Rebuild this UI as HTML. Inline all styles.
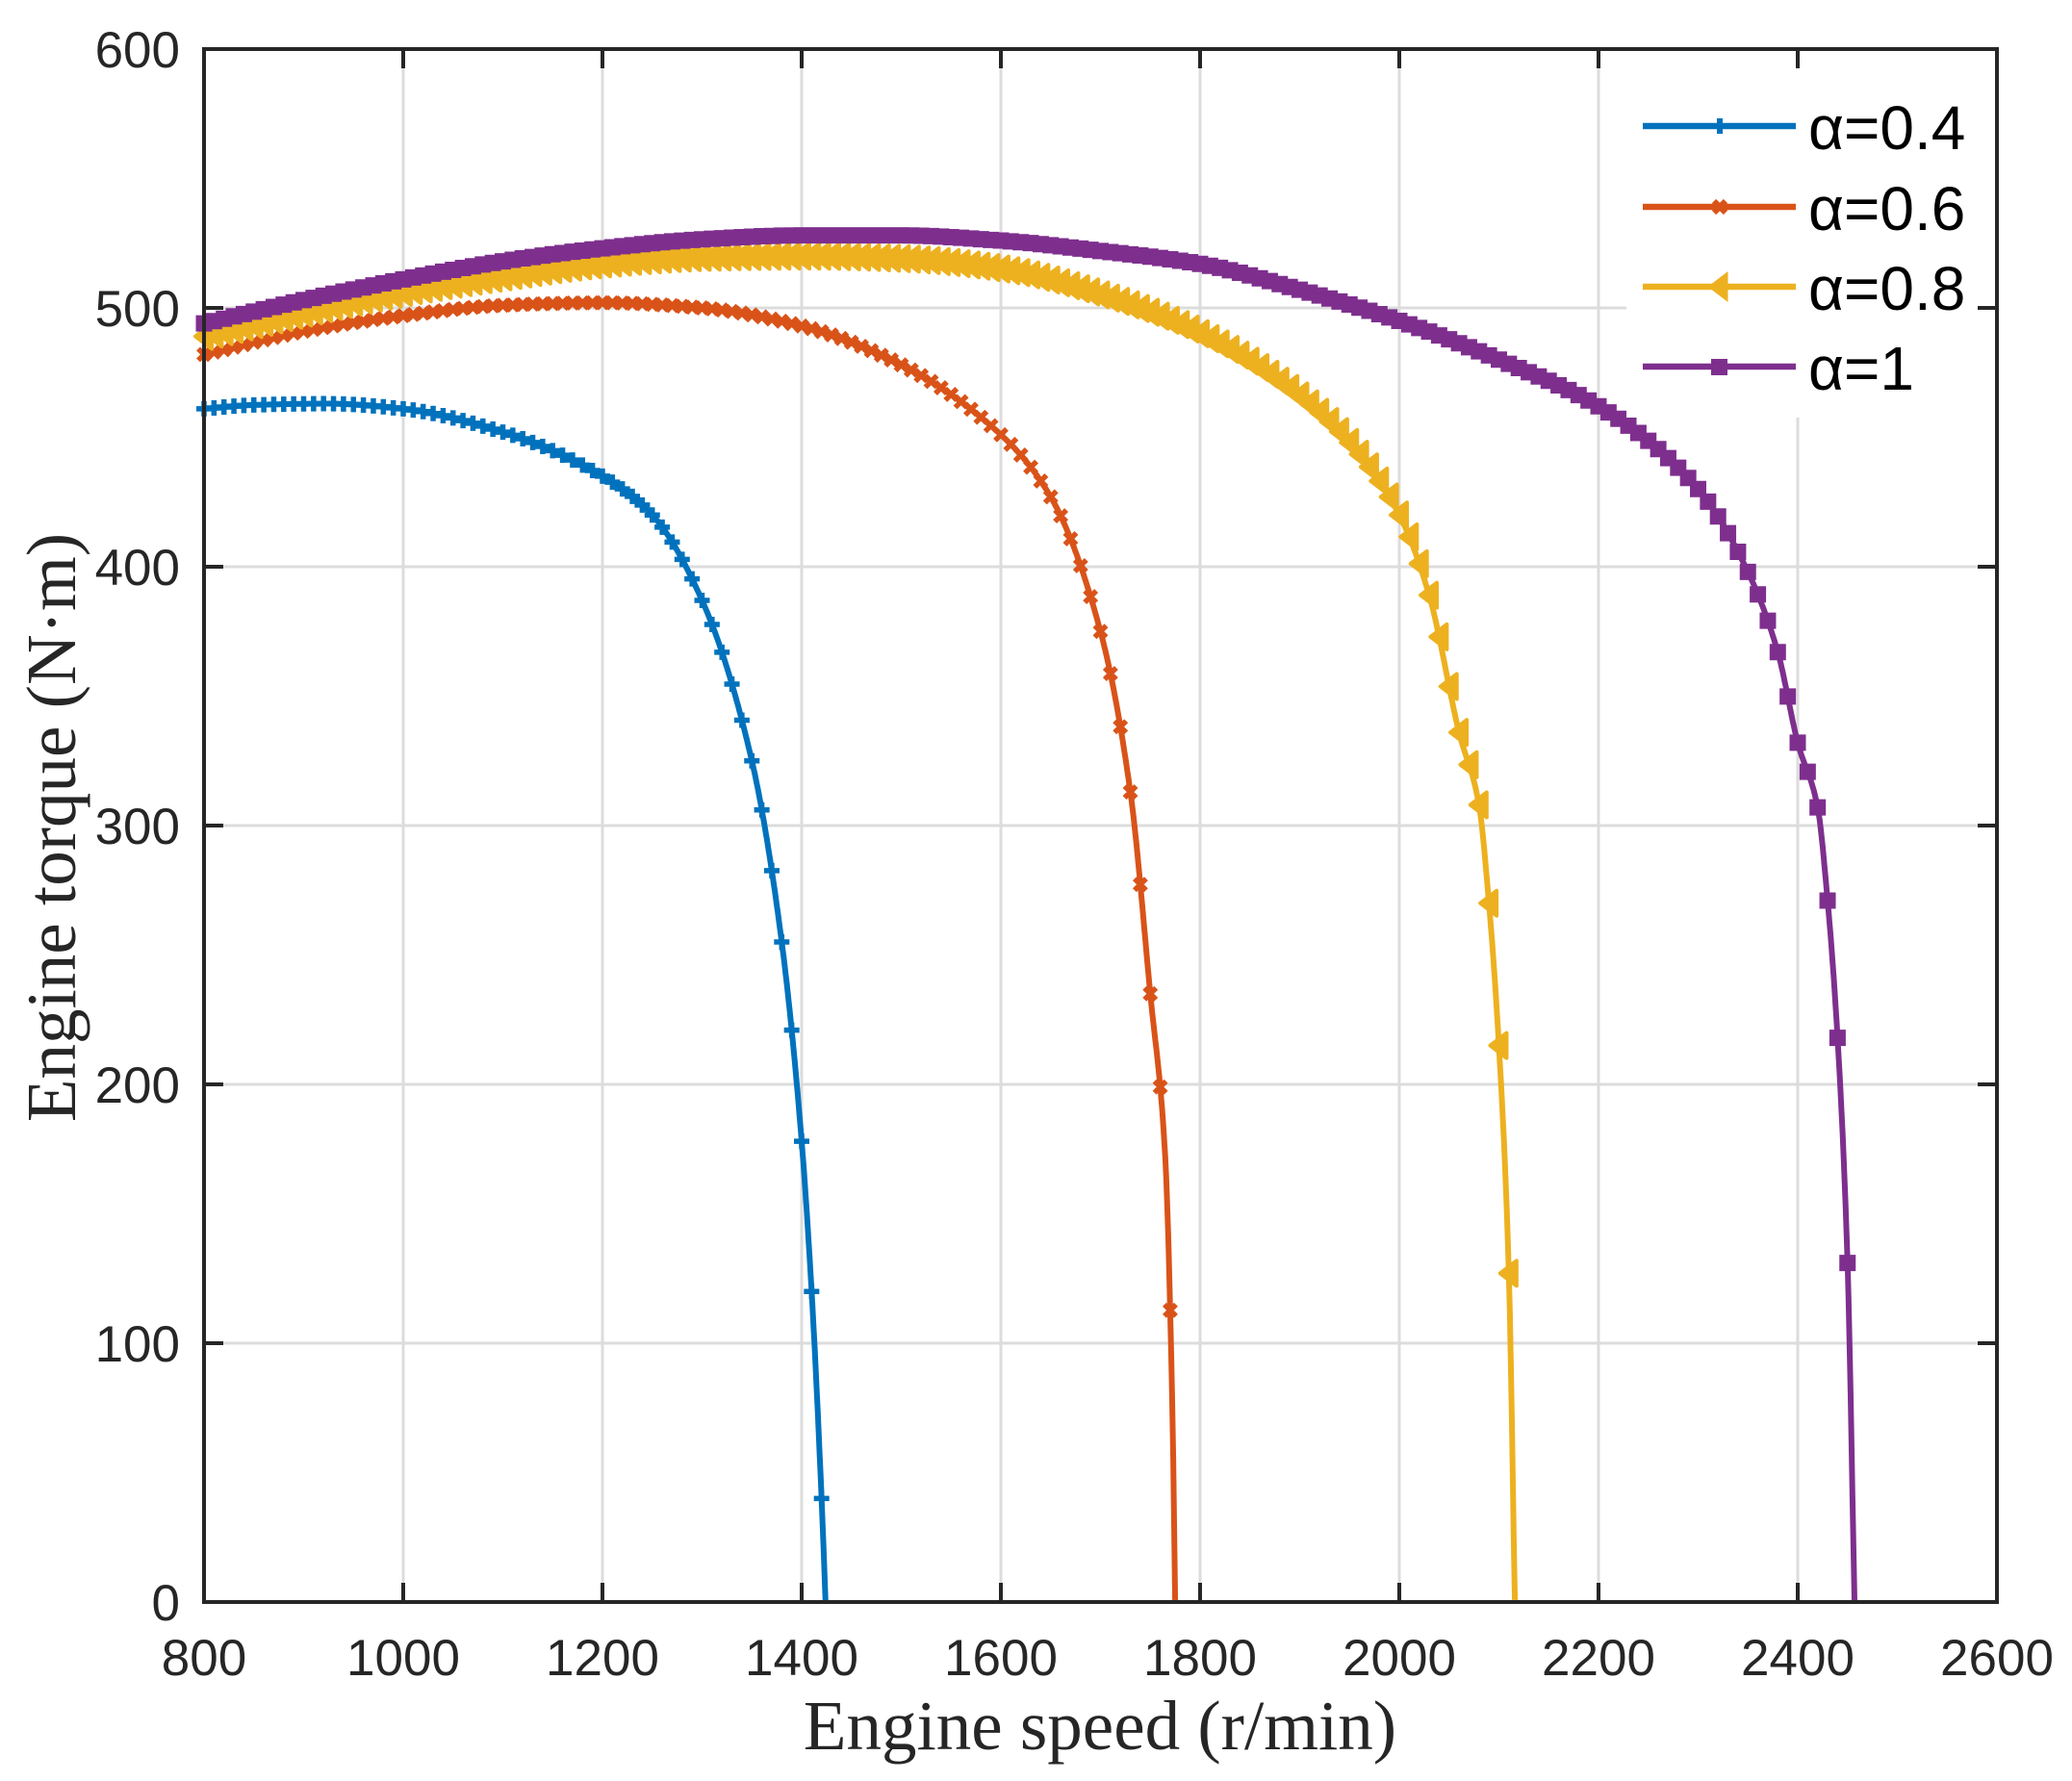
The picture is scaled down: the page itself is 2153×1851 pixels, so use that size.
<!DOCTYPE html>
<html><head><meta charset="utf-8">
<style>
html,body{margin:0;padding:0;background:#fff;}
svg{display:block;}
</style></head>
<body>
<svg id="s" width="2153" height="1851" xmlns="http://www.w3.org/2000/svg">
<rect width="2153" height="1851" fill="#fff"/>
<g id="grid"></g>
<g id="curves"></g>
<rect x="1690" y="62" width="368" height="372" fill="#fff"/>
<g id="axes"></g>
<g id="legend" font-family="Liberation Sans, sans-serif" font-size="64" fill="#000">
  <line x1="1707" y1="131" x2="1866" y2="131" stroke="#0072BD" stroke-width="6.5"/>
  <path d="M1779,131h16M1787,123v16" stroke="#0072BD" stroke-width="6"/>
  <text x="1879" y="155">α=0.4</text>
  <line x1="1707" y1="215" x2="1866" y2="215" stroke="#D95319" stroke-width="6.5"/>
  <path d="M1781,209l12,12M1793,209l-12,12" stroke="#D95319" stroke-width="6"/>
  <text x="1879" y="239">α=0.6</text>
  <line x1="1707" y1="298" x2="1866" y2="298" stroke="#EDB120" stroke-width="6.5"/>
  <path d="M1777,298L1794,285L1794,311Z" fill="#EDB120" stroke="#EDB120" stroke-width="3"/>
  <text x="1879" y="322">α=0.8</text>
  <line x1="1707" y1="381" x2="1866" y2="381" stroke="#7E2F8E" stroke-width="6.5"/>
  <rect x="1778" y="373" width="17" height="17" fill="#7E2F8E"/>
  <text x="1879" y="405">α=1</text>
</g>
<text x="1143" y="1818" text-anchor="middle" font-family="Liberation Serif, serif" font-size="73" fill="#262626">Engine speed (r/min)</text>
<text transform="translate(78,860) rotate(-90)" text-anchor="middle" font-family="Liberation Serif, serif" font-size="73" fill="#262626">Engine torque (N·m)</text>
</svg>
<script>
const L=212,R=2075,T=51,B=1665;
const X=n=>L+(n-800)/1800*(R-L), Y=t=>B-t/600*(B-T);
const NS="http://www.w3.org/2000/svg";
function el(p,tag,a){const e=document.createElementNS(NS,tag);for(const k in a)e.setAttribute(k,a[k]);p.appendChild(e);return e;}
const g=document.getElementById('grid'),ax=document.getElementById('axes'),cv=document.getElementById('curves');
for(let n=800;n<=2600;n+=200){const x=X(n);el(g,'line',{x1:x,y1:T,x2:x,y2:B,stroke:'#dcdcdc','stroke-width':3});}
for(let t=0;t<=600;t+=100){const y=Y(t);el(g,'line',{x1:L,y1:y,x2:R,y2:y,stroke:'#dcdcdc','stroke-width':3});}
function pchip(xs,ys){const n=xs.length,h=[],d=[],m=[];
for(let i=0;i<n-1;i++){h[i]=xs[i+1]-xs[i];d[i]=(ys[i+1]-ys[i])/h[i];}
m[0]=d[0];m[n-1]=d[n-2];
for(let i=1;i<n-1;i++){if(d[i-1]*d[i]<=0)m[i]=0;else{const w1=2*h[i]+h[i-1],w2=h[i]+2*h[i-1];m[i]=(w1+w2)/(w1/d[i-1]+w2/d[i]);}}
return x=>{let i=0;while(i<n-2&&x>xs[i+1])i++;const t=(x-xs[i])/h[i],t2=t*t,t3=t2*t;
return (2*t3-3*t2+1)*ys[i]+(t3-2*t2+t)*h[i]*m[i]+(-2*t3+3*t2)*ys[i+1]+(t3-t2)*h[i]*m[i+1];};}
const S=[
 {c:'#0072BD',m:'+',p:[[800,461],[850,462.5],[925,463],[1000,461],[1100,452],[1200,435],[1250,420],[1300,387],[1350,325],[1380,255],[1400,178],[1410,120],[1420,40],[1424,0]]},
 {c:'#D95319',m:'x',p:[[800,482],[900,491],[1000,497],[1100,501],[1200,502],[1300,500],[1400,493],[1500,478],[1600,451],[1650,427],[1700,375],[1730,313],[1750,235],[1765,172],[1772,78],[1775,0]]},
 {c:'#EDB120',m:'<',p:[[800,489],[900,498],[1000,506],[1100,512],[1200,517],[1300,519.5],[1400,520],[1500,519],[1600,515],[1700,505],[1800,490],[1900,466],[1950,448],[2000,420],[2030,389],[2060,336],[2080,308],[2090,270],[2100,215],[2110,127],[2116,0]]},
 {c:'#7E2F8E',m:'s',p:[[800,494],[900,503],[1000,511],[1100,518],[1200,523],[1300,526.5],[1400,528],[1500,528],[1600,526],[1700,522],[1800,517],[1900,507],[2000,495],[2100,480],[2200,462],[2300,430],[2350,398],[2380,367],[2400,332],[2420,307],[2430,271],[2440,218],[2450,131],[2457,0]]}
];
for(const s of S){
 const xs=s.p.map(a=>a[0]),ys=s.p.map(a=>a[1]),f=pchip(xs,ys),end=xs[xs.length-1];
 let d='';for(let n=800;n<=end;n+=1){const v=n>=end?0:Math.max(0,f(n));d+=(d?'L':'M')+X(n).toFixed(1)+','+Y(v).toFixed(1);}
 d+='L'+X(end).toFixed(1)+','+Y(0);
 el(cv,'path',{d:d,fill:'none',stroke:s.c,'stroke-width':6,'stroke-linejoin':'round'});
 let md='';
 for(let n=800;n<end;n+=10){const x=X(n),y=Y(Math.max(0,f(n)));
  if(s.m=='+')md+=`M${x-8},${y}h16M${x},${y-8}v16`;
  else if(s.m=='x')md+=`M${x-6},${y-6}l12,12M${x+6},${y-6}l-12,12`;
  else if(s.m=='<')md+=`M${x-9},${y}L${x+8},${y-13}L${x+8},${y+13}Z`;
  else md+=`M${x-8.5},${y-8.5}h17v17h-17Z`;}
 if(s.m=='s')el(cv,'path',{d:md,fill:s.c});
 else if(s.m=='<')el(cv,'path',{d:md,fill:s.c,stroke:s.c,'stroke-width':4,'stroke-linejoin':'round'});
 else el(cv,'path',{d:md,fill:'none',stroke:s.c,'stroke-width':5.5});
}
el(ax,'rect',{x:L,y:T,width:R-L,height:B-T,fill:'none',stroke:'#262626','stroke-width':4});
const tf={'font-family':'Liberation Sans, sans-serif','font-size':53,fill:'#262626'};
for(let n=800;n<=2600;n+=200){const x=X(n);
 el(ax,'line',{x1:x,y1:B,x2:x,y2:B-20,stroke:'#262626','stroke-width':4});
 el(ax,'line',{x1:x,y1:T,x2:x,y2:T+20,stroke:'#262626','stroke-width':4});
 const t=el(ax,'text',Object.assign({x:x,y:1741,'text-anchor':'middle'},tf));t.textContent=n;}
for(let v=0;v<=600;v+=100){const y=Y(v);
 el(ax,'line',{x1:L,y1:y,x2:L+20,y2:y,stroke:'#262626','stroke-width':4});
 el(ax,'line',{x1:R,y1:y,x2:R-20,y2:y,stroke:'#262626','stroke-width':4});
 const t=el(ax,'text',Object.assign({x:187,y:y+19,'text-anchor':'end'},tf));t.textContent=v;}
</script>
</body></html>
